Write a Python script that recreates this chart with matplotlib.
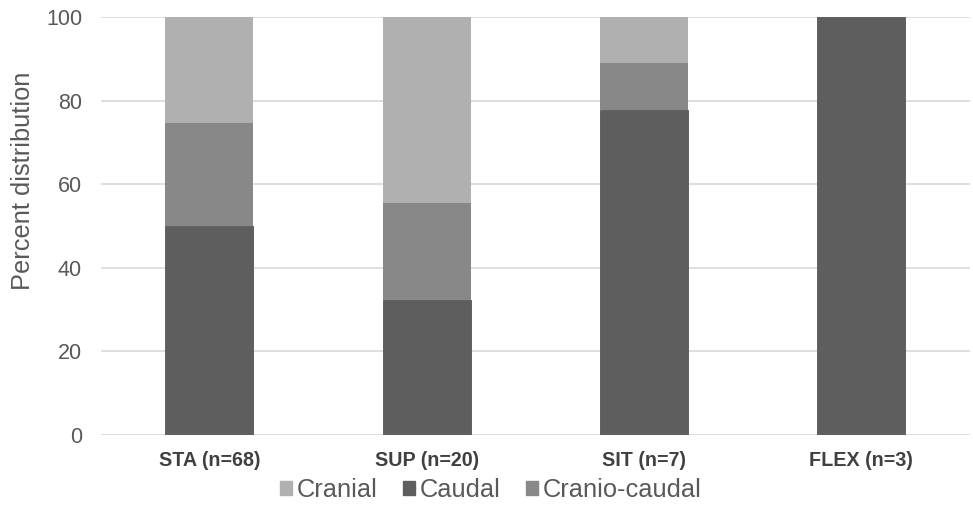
import numpy as np
import matplotlib.pyplot as plt
from matplotlib.patches import Patch

plt.rcParams['font.family'] = ['Liberation Sans', 'DejaVu Sans']

groups = ["STA (n=68)", "SUP (n=20)", "SIT (n=7)", "FLEX (n=3)"]
caudal = [50.0, 32.2, 77.8, 100.0]
cranio_caudal = [24.6, 23.2, 11.1, 0.0]
cranial = [25.4, 44.6, 11.1, 0.0]

c_cranial = '#b0b0b0'
c_caudal = '#5e5e5e'
c_cc = '#888888'

W, H = 973, 511
fig = plt.figure(figsize=(W / 100, H / 100), dpi=100)
ax = fig.add_axes([100.75 / W, 1 - 434.7 / H, 869 / W, (434.7 - 17) / H])

x = np.arange(len(groups))
w = 0.405
bottom1 = np.array(caudal)
bottom2 = bottom1 + np.array(cranio_caudal)
ax.bar(x, caudal, w, color=c_caudal, edgecolor='#555555', linewidth=0.6, zorder=3)
ax.bar(x, cranio_caudal, w, bottom=bottom1, color=c_cc, linewidth=0, zorder=3)
ax.bar(x, cranial, w, bottom=bottom2, color=c_cranial, linewidth=0, zorder=3)

ax.set_xlim(-0.5, 3.5)
ax.set_ylim(0, 100)
ax.set_yticks(range(0, 101, 20))
ax.grid(axis='y', color='#d9d9d9', linewidth=1.2, zorder=0)
for s in ax.spines.values():
    s.set_visible(False)
ax.tick_params(axis='both', length=0)
ax.tick_params(axis='y', labelsize=15.5, labelcolor='#595959', pad=13.5)
ax.set_xticks(x)
ax.set_xticklabels(groups, fontsize=14.2, fontweight='bold', color='#404040')
ax.tick_params(axis='x', pad=11.5)

# y label sits above the axes centre in the reference
fig.text(23 / W, 1 - 181 / H, "Percent distribution", rotation=90,
         ha='center', va='center', fontsize=18.3, color='#595959')

handles = [Patch(color=c_cranial, label='Cranial'),
           Patch(color=c_caudal, label='Caudal'),
           Patch(color=c_cc, label='Cranio-caudal')]
fig.legend(handles=handles, loc='center', bbox_to_anchor=(491 / W, 1 - 490 / H),
           ncol=3, frameon=False, fontsize=18.3, labelcolor='#595959',
           handlelength=0.45, handleheight=0.45, handletextpad=0.2,
           columnspacing=1.0, borderpad=0)

fig.savefig('out.png', dpi=100)
